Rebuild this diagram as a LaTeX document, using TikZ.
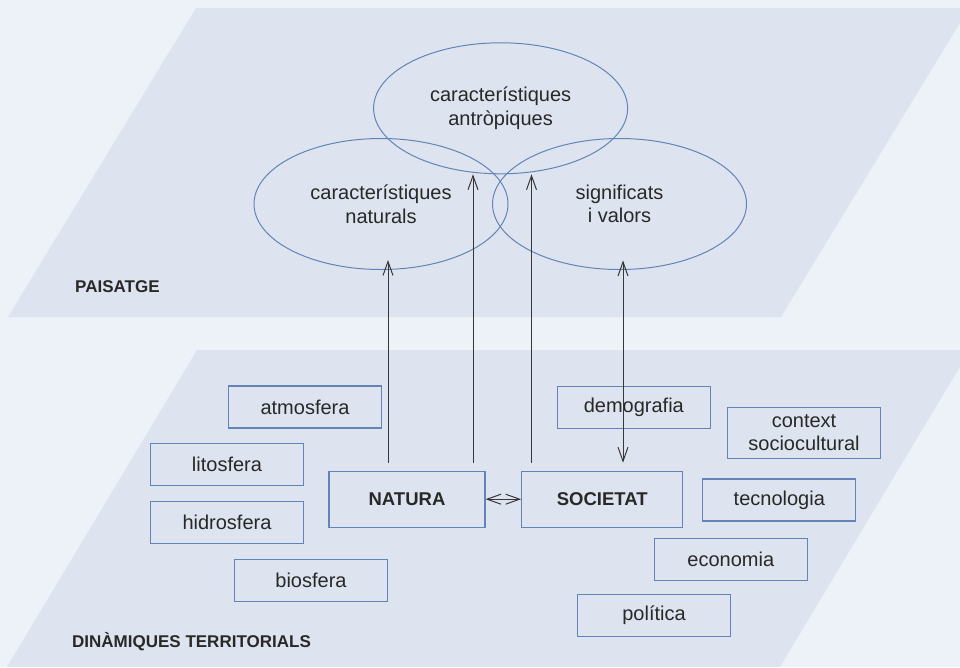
\documentclass[tikz,border=0pt]{standalone}
\usepackage{fontspec}
\setmainfont{Liberation Sans}
\usetikzlibrary{arrows.meta,shapes.geometric}
\definecolor{bgc}{RGB}{237,241,248}
\definecolor{plane}{RGB}{221,228,239}
\definecolor{edge}{RGB}{98,132,184}
\definecolor{ink}{RGB}{40,40,40}
\definecolor{arrc}{RGB}{55,55,55}
\begin{document}
\begin{tikzpicture}[x=1pt,y=-1pt,
 box/.style={draw=edge,line width=1.1pt,minimum width=153pt,minimum height=42pt,inner sep=0pt,text=ink,font=\fontsize{20}{23}\selectfont,align=center},
 mainbox/.style={box,font=\bfseries\fontsize{18.5}{21}\selectfont,minimum height=56pt},
 oval/.style={ellipse,draw=edge,line width=1pt,minimum width=254pt,minimum height=131pt,inner sep=0pt,text=ink,font=\fontsize{20}{23.5}\selectfont,align=center},
 arr/.style={draw=arrc,line width=1pt,-{Straight Barb[length=14pt,width=10pt]}},
 darr/.style={draw=arrc,line width=1pt,{Straight Barb[length=14pt,width=10pt]}-{Straight Barb[length=14pt,width=10pt]}},
 plabel/.style={anchor=west,text=ink,inner sep=0pt,font=\bfseries\fontsize{17}{20}\selectfont}]
\fill[bgc] (0,0) rectangle (960,667);
\useasboundingbox (0,0) rectangle (960,667);
\begin{scope}
\clip (0,0) rectangle (960,667);
\fill[plane] (196,8) -- (969,8) -- (781,317) -- (8,317) -- cycle;
\fill[plane] (197,350) -- (970,350) -- (780,667) -- (7,667) -- cycle;
\end{scope}

% ellipses
\node[oval] (ant) at (500.6,108.3) {característiques\\antròpiques};
\node[oval] (nat) at (381,204) {característiques\\naturals};
\node[oval] (sig) at (619.5,204) {significats\\i valors};

% labels of planes
\node[plabel] (pais) at (75,287) {PAISATGE};
\node[plabel] (dint) at (72,642) {DINÀMIQUES TERRITORIALS};

% boxes
\node[box] (atm) at (305,407) {atmosfera};
\node[box] (lit) at (227,464.7) {litosfera};
\node[box] (hid) at (227,522.3) {hidrosfera};
\node[box] (bio) at (311,580.3) {biosfera};
\node[mainbox,minimum width=156pt] (natura) at (407,499.2) {NATURA};
\node[mainbox,minimum width=161pt] (societat) at (602.2,499.2) {SOCIETAT};
\node[box] (dem) at (633.8,407.3) {demografia};
\node[box,minimum height=51pt] (ctx) at (804,432.7) {context\\sociocultural};
\node[box] (tec) at (779.3,500) {tecnologia};
\node[box] (eco) at (730.8,559.5) {economia};
\node[box] (pol) at (654,615.3) {política};

% arrows
\coordinate (a1) at ([xshift=-19pt,yshift=8pt]natura.north);
\coordinate (a2) at ([xshift=66pt,yshift=8pt]natura.north);
\coordinate (a3) at ([xshift=-70.7pt,yshift=8pt]societat.north);
\coordinate (a4) at ([xshift=20.8pt,yshift=8pt]societat.north);
\coordinate (n1) at ([yshift=10pt]nat.south);
\coordinate (s1) at ([yshift=9.5pt]sig.south);
\draw[arr] (a1) -- (a1 |- n1);
\draw[arr] (a2) -- (a2 |- ant.south);
\draw[arr] (a3) -- (a3 |- ant.south);
\draw[darr] (a4) -- (a4 |- s1);
\draw[darr] (natura.east) -- (societat.west);
\end{tikzpicture}
\end{document}
